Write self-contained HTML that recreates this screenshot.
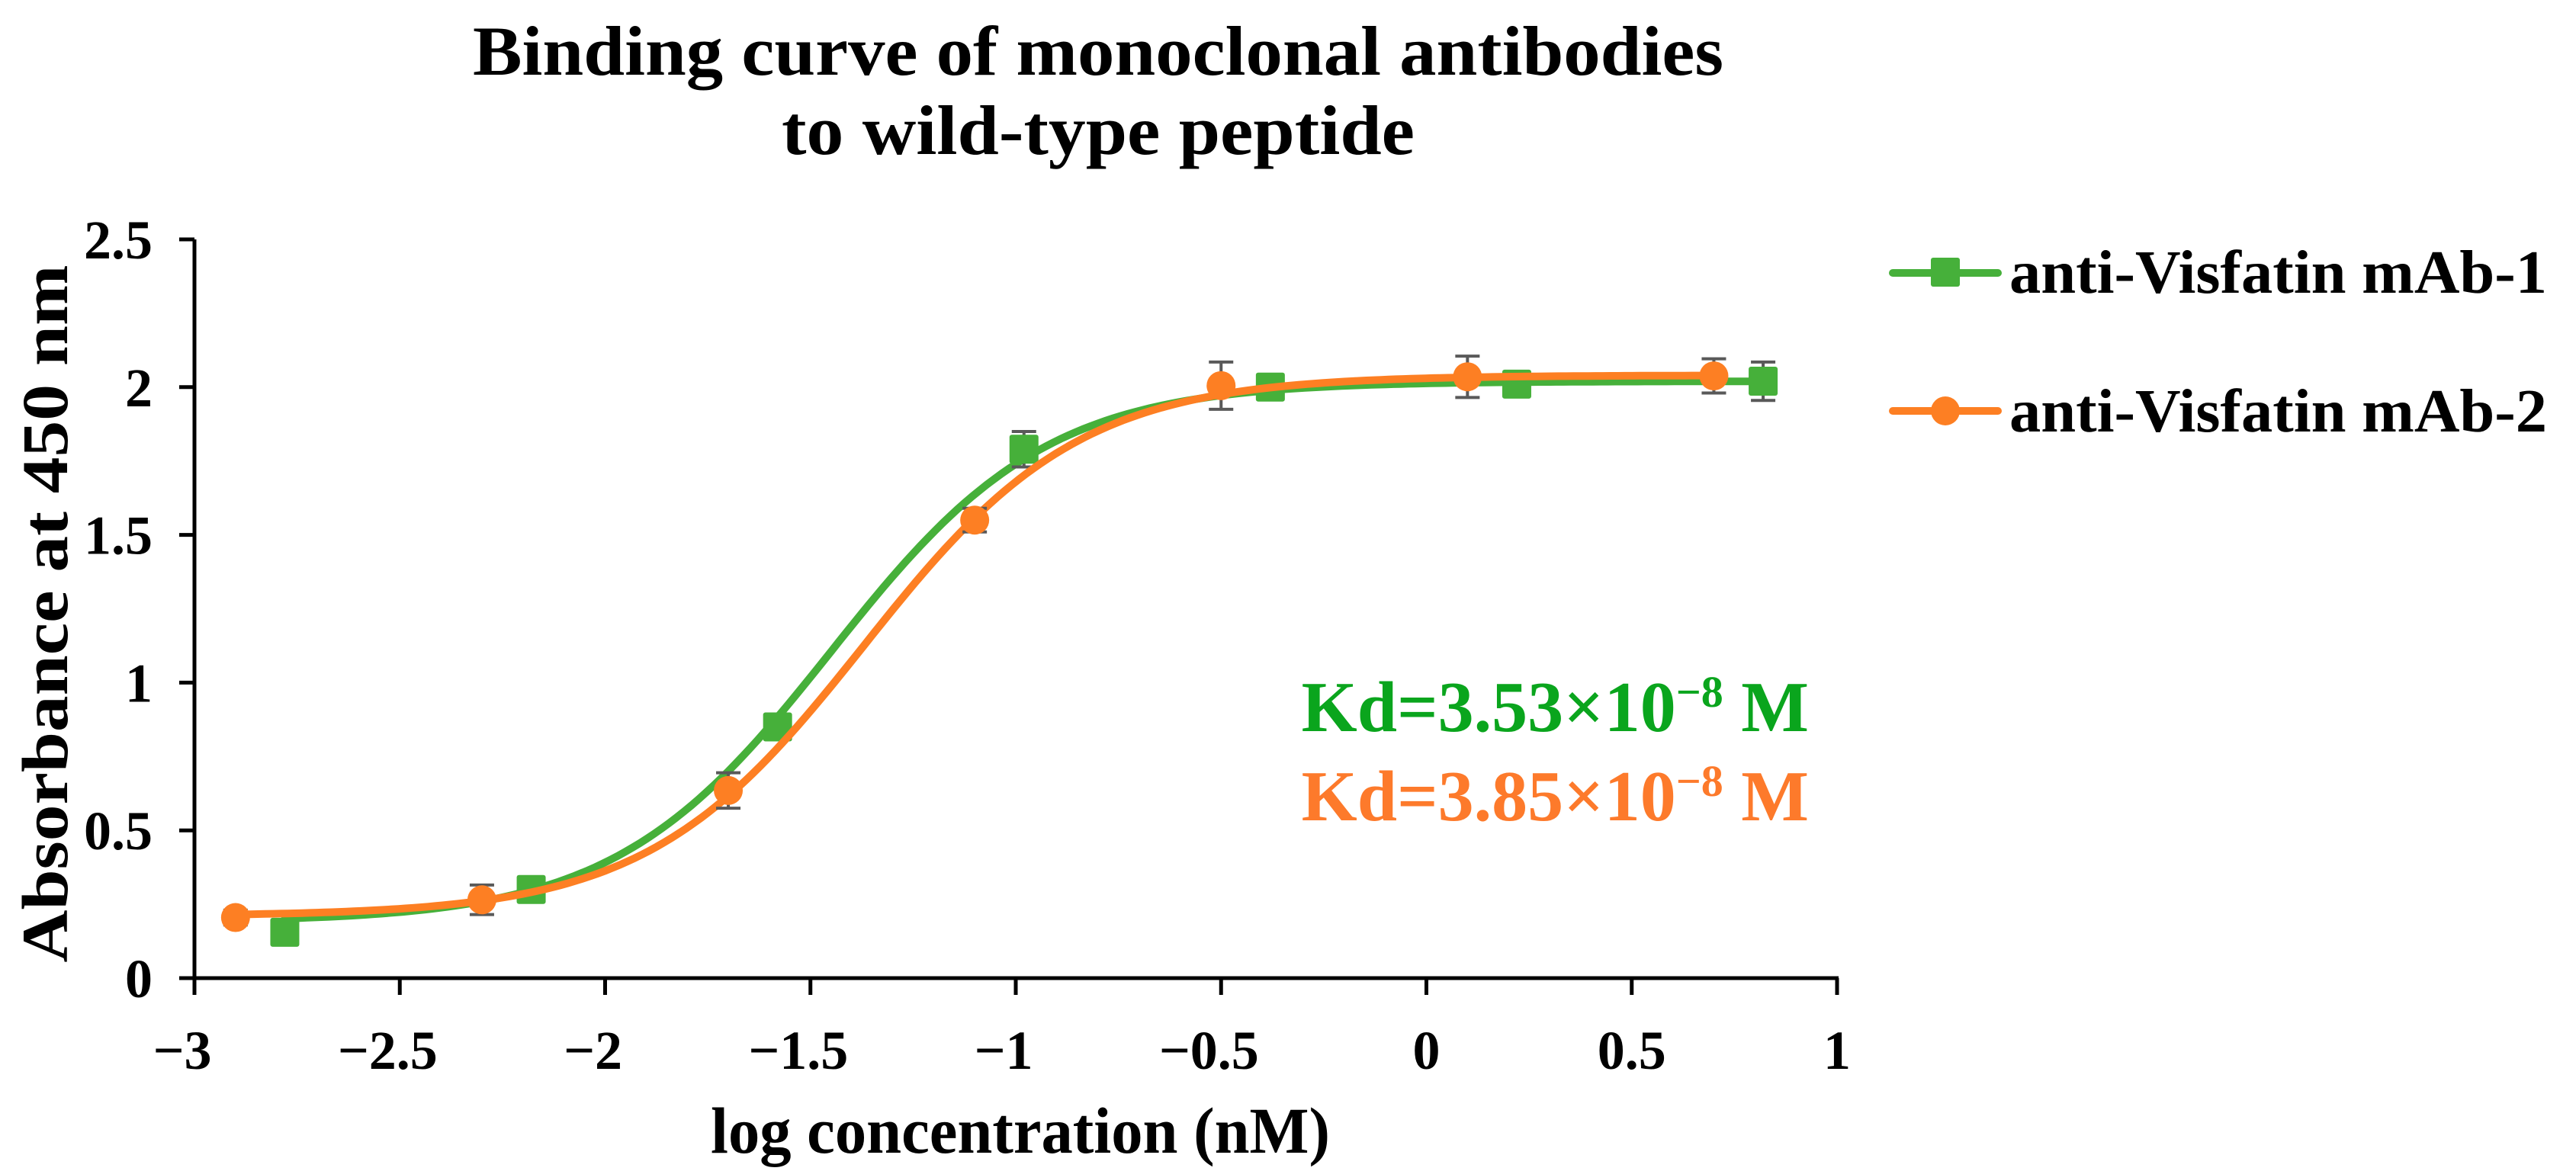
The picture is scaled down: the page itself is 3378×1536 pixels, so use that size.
<!DOCTYPE html>
<html><head><meta charset="utf-8"><style>
html,body{margin:0;padding:0;background:#fff;}
svg{display:block;font-family:"Liberation Serif",serif;font-weight:bold;}
</style></head><body>
<svg id="chart" width="3378" height="1536" viewBox="0 0 3378 1536" xmlns="http://www.w3.org/2000/svg">
<g>
<text x="1440" y="98" font-size="92" text-anchor="middle" textLength="1640" lengthAdjust="spacingAndGlyphs">Binding curve of monoclonal antibodies</text>
<text x="1440" y="202" font-size="92" text-anchor="middle" textLength="830" lengthAdjust="spacingAndGlyphs">to wild-type peptide</text>
</g>
<text transform="translate(88,805) rotate(-90)" font-size="86" text-anchor="middle" textLength="915" lengthAdjust="spacingAndGlyphs">Absorbance at 450 nm</text>
<text x="1338" y="1512" font-size="86" text-anchor="middle" textLength="812" lengthAdjust="spacingAndGlyphs">log concentration (nM)</text>
<g id="axes"></g>
<g id="series"></g>
<g>
<g>
<line x1="2482" y1="358" x2="2620" y2="358" stroke="#46b03a" stroke-width="10" stroke-linecap="round"/>
<rect x="2532" y="338" width="38" height="38" rx="3" fill="#46b03a"/>
<text x="2635" y="384" font-size="80" textLength="705" lengthAdjust="spacingAndGlyphs">anti-Visfatin mAb-1</text>
</g>
<g>
<line x1="2482" y1="539" x2="2620" y2="539" stroke="#fd7f23" stroke-width="10" stroke-linecap="round"/>
<circle cx="2551" cy="539" r="19" fill="#fd7f23"/>
<text x="2635" y="566" font-size="80" textLength="705" lengthAdjust="spacingAndGlyphs">anti-Visfatin mAb-2</text>
</g>
</g>
<text x="2372" y="959" font-size="94" fill="#0aa51d" text-anchor="end">Kd=3.53×10<tspan dy="-32" font-size="58">−8</tspan><tspan dy="32"> M</tspan></text>
<text x="2372" y="1076" font-size="94" fill="#fd7a2b" text-anchor="end">Kd=3.85×10<tspan dy="-32" font-size="58">−8</tspan><tspan dy="32"> M</tspan></text>
</svg>
<script>
const xTicks = [-3, -2.5, -2, -1.5, -1, -0.5, 0, 0.5, 1];
const xTickLabels = ["−3", "−2.5", "−2", "−1.5", "−1", "−0.5", "0", "0.5", "1"];
const yTicks = [0, 0.5, 1, 1.5, 2, 2.5];
const yTickLabels = ["0", "0.5", "1", "1.5", "2", "2.5"];
const mab1X = [-2.78, -2.18, -1.58, -0.98, -0.38, 0.22, 0.82];
const mab1Y = [0.155, 0.30, 0.85, 1.79, 2.00, 2.01, 2.02];
const mab1Err = [0.02, 0.03, 0.03, 0.06, 0.04, 0.03, 0.065];
const mab2X = [-2.9, -2.3, -1.7, -1.1, -0.5, 0.1, 0.7];
const mab2Y = [0.205, 0.265, 0.635, 1.55, 2.005, 2.035, 2.038];
const mab2Err = [0.025, 0.05, 0.06, 0.04, 0.08, 0.07, 0.058];
// 4PL fit parameters: bottom, top, logEC50, hill
const mab1Fit = [0.19, 2.02, -1.45, 1.65];
const mab2Fit = [0.21, 2.04, -1.37, 1.65];

const NS = "http://www.w3.org/2000/svg";
const X0 = 255, YB = 1283, YPX = 387.6;
function xScale(v){ return X0 + (v + 3) * 538.5; }
function yScale(v){ return YB - v * YPX; }
function mk(tag, attrs, parent){ const e = document.createElementNS(NS, tag); for (const k in attrs) e.setAttribute(k, attrs[k]); parent.appendChild(e); return e; }
const axes = document.getElementById('axes');
const ser = document.getElementById('series');

let ax = mk('line', {x1: X0, y1: yScale(2.5), x2: X0, y2: YB + 2, stroke: '#000', 'stroke-width': 5}, axes);


ax = mk('line', {x1: X0 - 20, y1: YB, x2: xScale(1) + 2, y2: YB, stroke: '#000', 'stroke-width': 5}, axes);



yTicks.forEach((t, i) => {
  const y = yScale(t);
  const tk = mk('line', {x1: X0 - 20, y1: y, x2: X0, y2: y, stroke: '#000', 'stroke-width': 5}, axes);
  
  
  const tx = mk('text', {x: 200, y: y + 25, 'font-size': 72, 'text-anchor': 'end'}, axes);
  tx.textContent = yTickLabels[i];
  
  
});
xTicks.forEach((t, i) => {
  const x = xScale(t);
  const tk = mk('line', {x1: x, y1: YB, x2: x, y2: YB + 22, stroke: '#000', 'stroke-width': 5}, axes);
  
  
  const tx = mk('text', {x: x - (t < 0 ? 16 : 0), y: 1402, 'font-size': 72, 'text-anchor': 'middle'}, axes);
  tx.textContent = xTickLabels[i];
  
  
});

function fourPL(p, x){ return p[0] + (p[1] - p[0]) / (1 + Math.pow(10, (p[2] - x) * p[3])); }
function drawSeries(xsArr, ysArr, err, fit, color, shape, name){
  const g = mk('g', {}, ser);
  
  
  let d = '';
  const a = xsArr[0], b = xsArr[xsArr.length - 1];
  for (let i = 0; i <= 200; i++) {
    const x = a + (b - a) * i / 200;
    d += (i ? 'L' : 'M') + xScale(x).toFixed(1) + ',' + yScale(fourPL(fit, x)).toFixed(1);
  }
  const path = mk('path', {d: d, fill: 'none', stroke: color, 'stroke-width': 10, 'stroke-linecap': 'round'}, g);
  
  
  xsArr.forEach((xv, i) => {
    const cx = xScale(xv), cy = yScale(ysArr[i]), e = err[i] * YPX;
    const eb = mk('path', {d: `M${cx},${cy - e}V${cy + e}M${cx - 16},${cy - e}H${cx + 16}M${cx - 16},${cy + e}H${cx + 16}`, stroke: '#595959', 'stroke-width': 4, fill: 'none'}, g);
    
    
    let m;
    if (shape === 'square') m = mk('rect', {x: cx - 19, y: cy - 19, width: 38, height: 38, rx: 3, fill: color}, g);
    else m = mk('circle', {cx: cx, cy: cy, r: 19, fill: color}, g);
    
    
  });
}
drawSeries(mab1X, mab1Y, mab1Err, mab1Fit, '#46b03a', 'square', 'mab1-series');
drawSeries(mab2X, mab2Y, mab2Err, mab2Fit, '#fd7f23', 'circle', 'mab2-series');
</script>
</body></html>
